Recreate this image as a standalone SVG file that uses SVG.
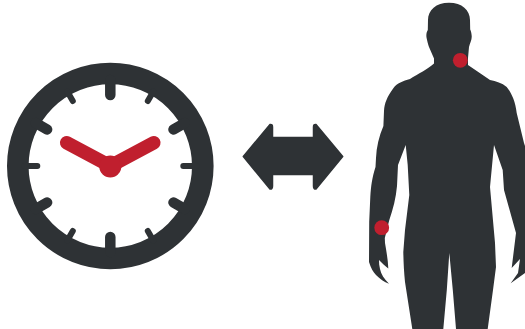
<svg xmlns="http://www.w3.org/2000/svg" width="525" height="329" viewBox="0 0 525 329">
<style>
.d{fill:#2e3235}.r{fill:#c01f2e}
.thin{stroke:#2e3235;stroke-width:6;stroke-linecap:round;fill:none}
.thick{stroke:#2e3235;stroke-width:10.5;stroke-linecap:round;fill:none}
.hand{stroke:#c01f2e;stroke-width:13.5;stroke-linecap:round;fill:none}
</style>
<rect width="525" height="329" fill="#fff"/>
<g id="clock">
<circle cx="110.3" cy="166" r="92.5" fill="#fff" stroke="#2e3235" stroke-width="21.6"/>
<path class="thick" d="M110.3 80V95M110.3 252V237M184.8 123L173.5 129.5M35.8 123L47.1 129.5M184.8 209L173.5 202.5M35.8 209L47.1 202.5"/>
<path class="thin" d="M196.3 166H183.3M24.3 166H37.3M153.3 91.5L147.8 101M67.3 91.5L72.8 101M153.3 240.5L147.8 231M67.3 240.5L72.8 231"/>
<path class="hand" d="M66.7 142.7L110.3 166L153.8 142.7"/>
<circle class="r" cx="110.3" cy="166.5" r="11"/>
</g>
<g id="arrow">
<path class="d" stroke="#2e3235" stroke-width="1.5" stroke-linejoin="round" d="M243.3 156.5L270 124.5Q272.5 124 272.5 127V137.5H313.5V127Q313.5 124 316 124.5L342.7 156.5L316 189Q313.5 189.5 313.5 186V174.5H272.5V186Q272.5 189.5 270 189Z"/>
</g>
<g id="body">
<path class="d" d="M449 2.7C436 2.7 428 10 428 20L427.8 30C426.5 32 426 35 426.6 38C427.5 42 428 44 429 47L434 58.5V63.5C428 69 418 74 410 79C403 81 397 83 393.5 88C387 97 384.5 103 384 111L383.4 126C379 136 376.5 147 376 158L375.5 167C372 178 371 186 370.3 197L369.2 222L369 262C371 268 373 272 376 275C380 279 384 282 389 283.7C384 279 381 274 380 269C379.2 266 379 263 379 260C382 263 385 266 388.3 268.5C388 260 386.5 252 385 243L384.8 238L389.3 220C393 209 396 198 397 186L398 165L405.7 145L407.7 165L409.3 195L405 230L403.3 252C403.5 263 404 272 405 282L412.3 329H443.3L446.8 290L449.3 253L452.8 290L456 329H487.7L493 290L496 267L495 243L490 187L494 145L502.7 170L504 190L516 233L512.3 263L511.7 268L520 259L518 273L510.7 283.3L525 273V146L524 143L516.7 113C515.5 101 511 92 506.7 87C502 83 496 81 490 80L468 65V58L469 47C470 43 472 40 471.7 36C471.5 33 471 31 470.2 29.5L470 20C470 10 462 2.7 449 2.7Z"/>
</g>
<circle id="neck-point" class="r" cx="460.3" cy="60.3" r="7.4"/>
<circle id="wrist-point" class="r" cx="381.7" cy="227.7" r="7.4"/>
</svg>
